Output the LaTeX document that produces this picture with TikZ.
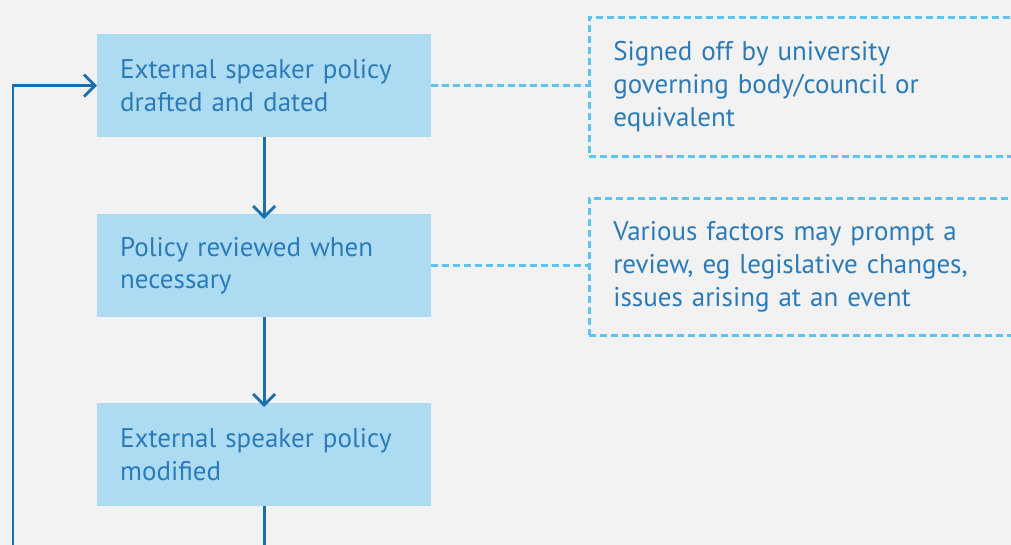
\documentclass[tikz,border=0pt]{standalone}
\usepackage{fontspec}
\setmainfont{PT Sans}
\usetikzlibrary{arrows.meta,positioning}
\definecolor{bg}{HTML}{F2F2F2}
\definecolor{boxfill}{HTML}{ADDCF2}
\definecolor{txt}{HTML}{2B7BB9}
\definecolor{flow}{HTML}{1C6FAE}
\definecolor{dash}{HTML}{5BC5EE}
\tikzset{
  stepbox/.style={fill=boxfill, draw=none, minimum width=334pt, minimum height=103pt,
    text width=288pt, inner xsep=23pt, inner ysep=0pt, align=left, anchor=north west,
    text=txt, font=\fontsize{27}{32.5}\selectfont},
  notebox/.style={draw=dash, line width=2.6pt, dash pattern=on 7pt off 4pt, minimum width=460pt,
    text width=412pt, inner xsep=24pt, inner ysep=0pt, align=left, anchor=north west,
    text=txt, font=\fontsize{27}{33}\selectfont},
  flowline/.style={draw=flow, line width=2.8pt},
  flowarrow/.style={flowline, -{Straight Barb[length=11pt,width=22pt,line width=2.8pt]}},
  link/.style={draw=dash, line width=2.6pt, dash pattern=on 7pt off 4pt}
}
\begin{document}
\begin{tikzpicture}[x=1pt,y=-1pt]
\useasboundingbox (0,0) rectangle (1011,545);
\fill[bg] (0,0) rectangle (1011,545);
\clip (0,0) rectangle (1011,545);
\node[stepbox] (b1) at (97,34) {External speaker policy\\drafted and dated};
\node[stepbox] (b2) at (97,214) {Policy reviewed when\\necessary};
\node[stepbox] (b3) at (97,403) {External speaker policy\\modified};
\node[notebox, minimum height=139pt] (n1) at (588,16) {Signed off by university\\governing body/council or\\equivalent};
\node[notebox, minimum height=137pt] (n2) at (588,197) {Various factors may prompt a\\review, eg legislative changes,\\issues arising at an event};
\coordinate (loopbot) at (13,560);
\coordinate (b3out) at ([yshift=-60pt]b3.south);
\draw[link] (b1.east) -- (b1.east -| n1.west);
\draw[link] (b2.east) -- (b2.east -| n2.west);
\draw[flowarrow] (b1.south) -- ([yshift=-5pt]b2.north);
\draw[flowarrow] (b2.south) -- ([yshift=-4pt]b3.north);
\draw[flowline] (b3.south) -- (b3out);
\draw[flowarrow] (loopbot) |- (b1.west);
\end{tikzpicture}
\end{document}
